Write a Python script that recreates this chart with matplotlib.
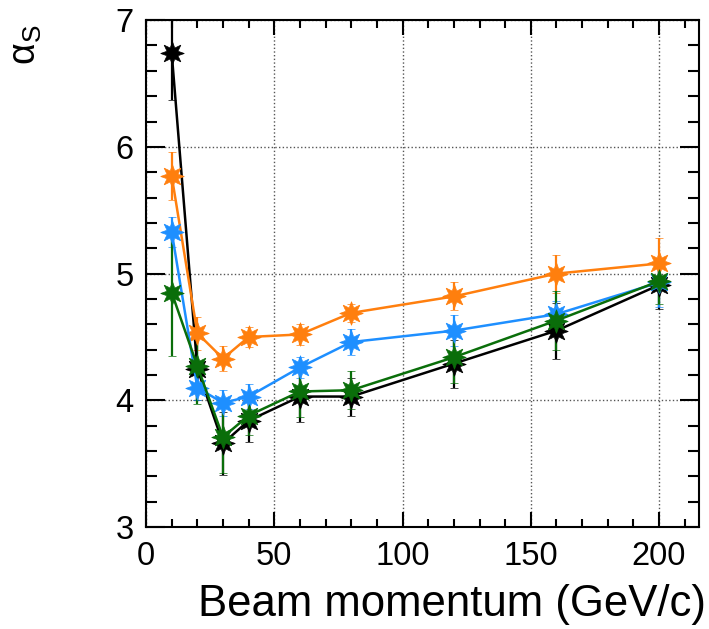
import matplotlib
matplotlib.use("Agg")
from matplotlib import pyplot as plt
from matplotlib.ticker import MultipleLocator

plt.rcParams['font.family'] = ['Liberation Sans', 'DejaVu Sans']
plt.rcParams['mathtext.fontset'] = 'custom'
plt.rcParams['mathtext.rm'] = 'Liberation Sans'
plt.rcParams['mathtext.it'] = 'Liberation Sans:italic'

# beam momentum (GeV/c)
momentum = [10, 20, 30, 40, 60, 80, 120, 160, 200]

# alpha_s per series
black_y = [6.74, 4.25, 3.66, 3.84, 4.03, 4.03, 4.29, 4.55, 4.91]
black_err = [0.37, 0.25, 0.25, 0.17, 0.2, 0.15, 0.19, 0.22, 0.19]

orange_y = [5.77, 4.53, 4.33, 4.50, 4.52, 4.69, 4.82, 5.00, 5.08]
orange_err = [0.19, 0.13, 0.10, 0.08, 0.08, 0.07, 0.11, 0.15, 0.20]

blue_y = [5.33, 4.10, 3.98, 4.03, 4.26, 4.46, 4.55, 4.68, 4.93]
blue_err = [0.12, 0.10, 0.10, 0.10, 0.08, 0.10, 0.12, 0.10, 0.19]

green_y = [4.85, 4.27, 3.71, 3.88, 4.07, 4.08, 4.34, 4.63, 4.94]
green_err = [0.50, 0.30, 0.28, 0.15, 0.20, 0.15, 0.20, 0.23, 0.18]

series = [
    (black_y, black_err, 'black'),
    (orange_y, orange_err, '#ff7f0e'),
    (blue_y, blue_err, '#1e8fff'),
    (green_y, green_err, '#0a6e0a'),
]

fig = plt.figure(figsize=(7.09, 6.29), dpi=100)
ax = fig.add_axes([0.206, 0.162, 0.78, 0.806])

for yv, ev, col in series:
    ax.errorbar(momentum, yv, yerr=ev, color=col, lw=1.8, elinewidth=1.6,
                capsize=3, capthick=1.6, marker=(8, 1, 0), markersize=17,
                markeredgewidth=0.5)

ax.set_xlim(0, 215.6)
ax.set_ylim(3, 7)
ax.xaxis.set_major_locator(MultipleLocator(50))
ax.xaxis.set_minor_locator(MultipleLocator(10))
ax.yaxis.set_major_locator(MultipleLocator(1))
ax.yaxis.set_minor_locator(MultipleLocator(0.2))

ax.grid(True, which='major', linestyle=':', color='#555555', lw=1.0)
ax.tick_params(which='both', direction='in', top=True, right=True,
               labelsize=23.5, width=1.5)
ax.tick_params(axis='x', which='major', length=11, pad=10)
ax.tick_params(axis='x', which='minor', length=6)
ax.tick_params(axis='y', which='major', length=14, pad=9)
ax.tick_params(axis='y', which='minor', length=8)
for sp in ax.spines.values():
    sp.set_linewidth(1.5)

ax.set_xlabel('Beam momentum (GeV/c)', fontsize=31.5, loc='right')
ax.xaxis.set_label_coords(1.012, -0.113)
ax.set_ylabel(r'$\mathrm{\alpha_S}$', fontsize=27, loc='top')
ax.yaxis.set_label_coords(-0.185, 0.99)

fig.savefig('out.png', dpi=100)
